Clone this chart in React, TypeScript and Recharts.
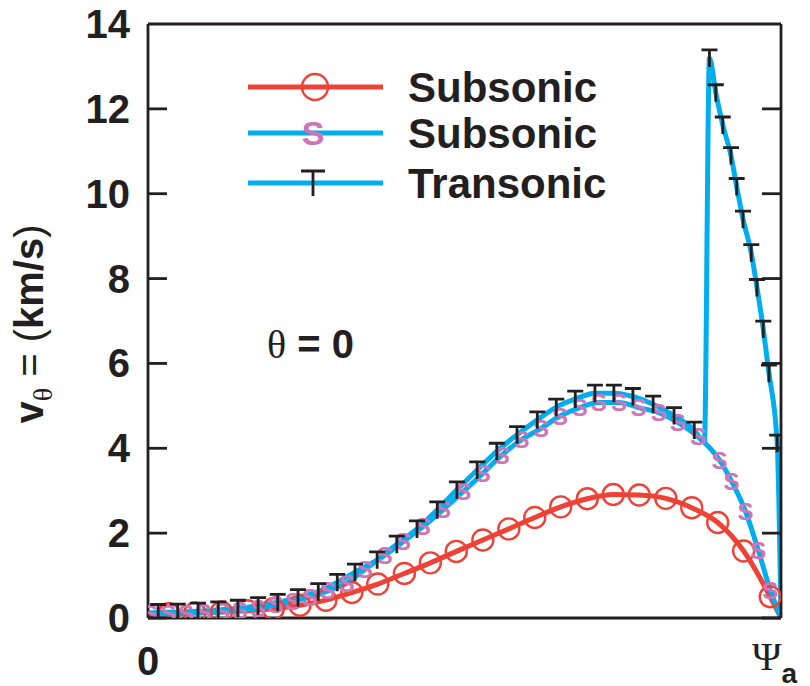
import { LineChart, Line, XAxis, YAxis, Legend, ReferenceDot } from "recharts";

const RED = "#ef4136";
const BLUE = "#00aeef";
const PINK = "#cf74b6";
const INK = "#231f20";
const SANS = "'Liberation Sans', Arial, Helvetica, sans-serif";
const SERIF = "'Liberation Serif', 'Times New Roman', serif";

// position along the cut, as a fraction of Psi_a
const subsonicAX = [
  0, 0.033, 0.074, 0.116, 0.157, 0.198, 0.24, 0.281, 0.322, 0.363, 0.405, 0.446, 0.487,
  0.529, 0.57, 0.611, 0.652, 0.694, 0.735, 0.776, 0.818, 0.859, 0.9, 0.941, 0.983, 1,
];
const subsonicAV = [
  0.08, 0.1, 0.12, 0.14, 0.17, 0.22, 0.3, 0.42, 0.6, 0.8, 1.05, 1.3, 1.57, 1.84, 2.1, 2.37,
  2.62, 2.81, 2.91, 2.9, 2.82, 2.6, 2.25, 1.58, 0.5, 0,
];

const subsonicBX = [
  0.003, 0.032, 0.06, 0.088, 0.117, 0.145, 0.174, 0.202, 0.229, 0.256, 0.284, 0.314, 0.343,
  0.374, 0.403, 0.434, 0.466, 0.498, 0.529, 0.559, 0.59, 0.621, 0.651, 0.682, 0.712, 0.744,
  0.775, 0.807, 0.837, 0.869, 0.903, 0.922, 0.944, 0.964, 0.983, 1,
];
const subsonicBV = [
  0.1, 0.1, 0.11, 0.13, 0.15, 0.18, 0.23, 0.31, 0.4, 0.49, 0.64, 0.82, 1.15, 1.48, 1.8, 2.15,
  2.55, 2.98, 3.41, 3.84, 4.2, 4.47, 4.76, 4.96, 5.08, 5.08, 4.96, 4.84, 4.61, 4.27, 3.72,
  3.22, 2.51, 1.6, 0.66, 0,
];

const transonicX = [
  0, 0.016, 0.047, 0.079, 0.111, 0.142, 0.174, 0.205, 0.237, 0.269, 0.299, 0.327, 0.362,
  0.393, 0.425, 0.457, 0.488, 0.52, 0.551, 0.583, 0.615, 0.645, 0.675, 0.706, 0.736, 0.766,
  0.798, 0.831, 0.863, 0.879, 0.887, 0.897, 0.908, 0.921, 0.93, 0.94, 0.953, 0.962, 0.972,
  0.981, 0.994, 1,
];
const transonicV = [
  0.12, 0.13, 0.14, 0.16, 0.19, 0.23, 0.29, 0.37, 0.48, 0.62, 0.84, 1.08, 1.37, 1.74, 2.1,
  2.55, 3.02, 3.49, 3.93, 4.32, 4.67, 4.97, 5.16, 5.3, 5.3, 5.22, 5.04, 4.77, 4.43, 4.15,
  13.2, 12.38, 11.62, 10.9, 10.17, 9.4, 8.61, 7.79, 6.81, 5.77, 4.12, 0,
];

// points that lie on a curve but carry no symbol
const plainA = [0, 25];
const plainB = [35];
const plainT = [0, 29, 41];

const seriesNames = ["Subsonic", "Subsonic", "Transonic"];
const yTicks = [0, 2, 4, 6, 8, 10, 12, 14];
const xTicks = [0, 1];

const rowsA = subsonicAX.map((x, i) => ({ x, v: subsonicAV[i] }));
const rowsB = subsonicBX.map((x, i) => ({ x, v: subsonicBV[i] }));
const rowsT = transonicX.map((x, i) => ({ x, v: transonicV[i] }));

// the chart fills the whole page (body margin cancelled)
const CHART_W = 810;
const CHART_H = 686;
const LEFT_W = 148;
const RIGHT_W = 29;
const PLOT_W = CHART_W - LEFT_W - RIGHT_W;
const TICK = 19;

const circleMark = (cx: number, cy: number, r: number, key?: any) => (
  <circle key={key} cx={cx} cy={cy} r={r} fill="none" stroke={RED} strokeWidth={2.4} />
);
const sMark = (cx: number, cy: number, size: number, key?: any) => (
  <text key={key} x={cx} y={cy + size * 0.36} textAnchor="middle"
    fontSize={size} fontWeight="bold" fontFamily={SANS} fill={PINK}>S</text>
);
const tMark = (cx: number, cy: number, h: number, key?: any) => (
  <path key={key} d={`M${cx - h / 2},${cy - h / 2}H${cx + h / 2}M${cx},${cy - h / 2}V${cy + h / 2 + 1}`}
    stroke={INK} strokeWidth={2.8} fill="none" />
);

const dotA = (p: any) =>
  plainA.includes(p.index) ? <g key={`a${p.index}`} /> : circleMark(p.cx, p.cy, 10.5, `a${p.index}`);
const dotB = (p: any) =>
  plainB.includes(p.index) ? <g key={`b${p.index}`} /> : sMark(p.cx, p.cy, 24, `b${p.index}`);
const dotT = (p: any) =>
  plainT.includes(p.index) ? <g key={`t${p.index}`} /> : tMark(p.cx, p.cy, 16, `t${p.index}`);

// left tick with its label, the matching inward tick on the right frame,
// and the top edge of the frame at the last tick
const YTick = ({ x, y, payload, index }: any) => (
  <g>
    {index === yTicks.length - 1 ? (
      <line x1={x} x2={x + PLOT_W} y1={y} y2={y} stroke={INK} strokeWidth={2.8} />
    ) : (
      <>
        <line x1={x} x2={x + TICK} y1={y} y2={y} stroke={INK} strokeWidth={2.8} />
        <line x1={x + PLOT_W - TICK} x2={x + PLOT_W} y1={y} y2={y} stroke={INK} strokeWidth={2.8} />
      </>
    )}
    <text x={x - 18} y={y} dy={14} textAnchor="end" fontSize={40} fontWeight="bold"
      fontFamily={SANS} fill={INK}>{payload.value}</text>
  </g>
);
const XTick = ({ x, y, payload }: any) =>
  payload.value === 0 ? (
    <text x={x} y={y + 57} textAnchor="middle" fontSize={40} fontWeight="bold" fontFamily={SANS} fill={INK}>0</text>
  ) : (
    <text x={x - 29} y={y + 52} fill={INK}>
      <tspan fontFamily={SERIF} fontSize={40}>Ψ</tspan>
      <tspan fontFamily={SANS} fontWeight="bold" fontSize={28} dy={13}>a</tspan>
    </text>
  );

const YLabel = ({ viewBox }: any) => {
  const cx = viewBox.x + 43;
  const cy = viewBox.y + viewBox.height / 2 + 3;
  return (
    <text x={cx} y={cy} transform={`rotate(-90 ${cx} ${cy})`} textAnchor="middle" fill={INK} fontFamily={SANS} fontSize={40}>
      <tspan fontWeight="bold">v</tspan>
      <tspan fontFamily={SERIF} fontSize={28} dy={9}>θ</tspan>
      <tspan dy={-9}> = (</tspan>
      <tspan fontWeight="bold">km/s</tspan>
      <tspan>)</tspan>
    </text>
  );
};

const ThetaLabel = ({ viewBox }: any) => (
  <text x={viewBox.x} y={viewBox.y} fill={INK} fontSize={40}>
    <tspan fontFamily={SERIF}>θ</tspan>
    <tspan fontFamily={SANS} fontWeight="bold"> = 0</tspan>
  </text>
);

const legendRows = [27, 73, 123];
const LegendBox = () => (
  <svg width={380} height={150} style={{ display: "block" }}>
    {seriesNames.map((name, i) => {
      const y = legendRows[i];
      return (
        <g key={i}>
          <line x1={8} x2={143} y1={y} y2={y} stroke={i === 0 ? RED : BLUE} strokeWidth={5} />
          {i === 0 && circleMark(75, y, 13)}
          {i === 1 && sMark(73, y, 34)}
          {i === 2 && tMark(73, y, 24)}
          <text x={168} y={y + 15} fontSize={42} fontWeight="bold" fontFamily={SANS} fill={INK}>{name}</text>
        </g>
      );
    })}
  </svg>
);

const axisStyle = { stroke: INK, strokeWidth: 2.8 };

export default function App() {
  return (
    <div style={{ width: CHART_W, height: CHART_H, margin: "-8px 0 0 -8px" }}>
      <LineChart width={CHART_W} height={CHART_H} margin={{ top: 24, right: 0, bottom: 18, left: 0 }}>
        <XAxis type="number" dataKey="x" domain={[0, 1]} ticks={xTicks} interval={0} height={50}
          tickLine={false} tickSize={0} tickMargin={0} axisLine={axisStyle} tick={XTick} allowDataOverflow />
        <YAxis type="number" domain={[0, 14]} ticks={yTicks} interval={0} width={LEFT_W}
          tickLine={false} tickSize={0} tickMargin={0} axisLine={axisStyle} tick={YTick}
          label={{ content: YLabel }} allowDataOverflow />
        <YAxis yAxisId="r" orientation="right" type="number" domain={[0, 14]} width={RIGHT_W}
          tick={false} tickLine={false} axisLine={axisStyle} allowDataOverflow />
        <Legend verticalAlign="middle" align="center" layout="horizontal" content={LegendBox}
          wrapperStyle={{ left: 240, top: 60, width: 380, height: 150 }} />
        <Line data={rowsA} dataKey="v" type="monotone" stroke={RED} strokeWidth={5} dot={dotA}
          activeDot={false} isAnimationActive={false} />
        <Line data={rowsT} dataKey="v" type="monotone" stroke={BLUE} strokeWidth={5} dot={false}
          activeDot={false} isAnimationActive={false} />
        <Line data={rowsB} dataKey="v" type="monotone" stroke={BLUE} strokeWidth={5} dot={false}
          activeDot={false} isAnimationActive={false} />
        <Line data={rowsB} dataKey="v" type="monotone" stroke="none" dot={dotB}
          activeDot={false} isAnimationActive={false} legendType="none" />
        <Line data={rowsT} dataKey="v" type="monotone" stroke="none" dot={dotT}
          activeDot={false} isAnimationActive={false} legendType="none" />
        <ReferenceDot x={0.188} y={6.13} r={0} fill="none" stroke="none" ifOverflow="visible"
          label={{ content: ThetaLabel }} />
      </LineChart>
    </div>
  );
}
